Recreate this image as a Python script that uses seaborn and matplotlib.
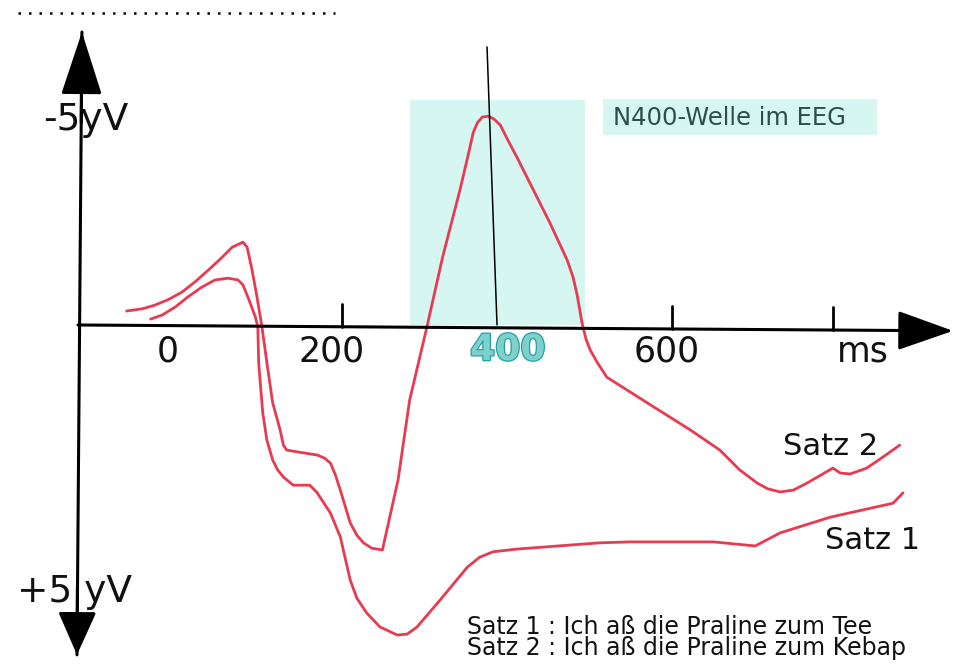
import numpy as np
import pandas as pd
import matplotlib
matplotlib.use("Agg")
import matplotlib.pyplot as plt
import matplotlib.patheffects as pe
import seaborn as sns

# ---------------- data (time in ms, potential in µV; negative plotted upward) ----------------
satz2_ms = [-61, -42, -27, -11, 6, 22, 38, 55, 67, 80, 85, 91, 97, 103, 109, 116, 125, 129, 133,
            146, 170, 179, 186, 192, 198, 210, 218, 226, 236, 249,
            268, 282, 303, 322, 343, 353, 359, 364, 370, 377, 384, 392, 401, 412, 432, 452, 473,
            480, 485, 491, 496, 501, 509, 521, 570, 622, 658, 682, 703, 716, 731, 747, 764,
            795, 804, 816, 836, 856, 876]
satz2_uv = [-0.31, -0.36, -0.44, -0.56, -0.73, -0.96, -1.22, -1.51, -1.73, -1.84, -1.73, -1.22, -0.62, 0.04, 0.84, 1.73, 2.33, 2.67, 2.78,
            2.82, 2.89, 2.96, 3.07, 3.33, 3.67, 4.40, 4.67, 4.84, 4.96, 5.00,
            3.44, 1.67, 0.04, -1.51, -3.0, -3.78, -4.27, -4.49, -4.62, -4.64, -4.58, -4.44, -4.11, -3.73, -3.0, -2.27, -1.44,
            -1.07, -0.67, -0.04, 0.33, 0.56, 0.82, 1.16, 1.73, 2.33, 2.78, 3.22, 3.51, 3.64, 3.71, 3.67, 3.51,
            3.18, 3.29, 3.31, 3.18, 2.93, 2.67]

satz1_ms = [-32, -18, -2, 13, 30, 46, 62, 74, 80, 86, 95, 98, 99, 104, 109, 116, 122, 129, 141,
            161, 170, 186, 198, 210, 218, 230, 246, 267, 279, 291, 319, 352, 367, 383, 412,
            513, 549, 650, 701, 731, 792, 868, 880]
satz1_uv = [-0.13, -0.22, -0.40, -0.62, -0.84, -1.0, -1.04, -1.0, -0.89, -0.62, -0.18, 0.04, 0.84, 1.96, 2.56, 3.0, 3.22, 3.38, 3.56,
            3.56, 3.73, 4.18, 4.71, 5.67, 6.07, 6.4, 6.71, 6.89, 6.87, 6.71, 6.11, 5.38, 5.16, 5.04, 4.98,
            4.84, 4.82, 4.82, 4.91, 4.62, 4.27, 3.96, 3.73]

tick_ms = [200, 600, 795]
tick_labels = ["0", "200", "400", "600", "ms"]
tick_label_ms = [-11, 187, 401, 594, 831]
n400_window = [282.4, 494.5]
n400_top = -5.0
peak_line_ms = [375.8, 387.9]
peak_line_uv = [-6.18, 0.0]
series_names = ["Satz 1", "Satz 2"]
sentences = ["Satz 1 : Ich aß die Praline zum Tee", "Satz 2 : Ich aß die Praline zum Kebap"]

# ---------------- figure ----------------
sns.set_theme(style="white")
plt.rcParams["font.family"] = ["DejaVu Sans"]
fig = plt.figure(figsize=(9.71, 6.66), dpi=100)
ax = fig.add_axes([0, 0, 1, 1])
ax.set_xlim(-214.5, 962.4)
ax.set_ylim(7.578, -7.222)
ax.axis("off")

RED = "#e63b51"
INK = "#111111"

# N400 shaded window
ax.fill_between(n400_window, n400_top, 0, color="#d5f6f1", lw=0, zorder=0)

# curves
df = pd.concat([
    pd.DataFrame({"ms": satz1_ms, "uv": satz1_uv, "satz": series_names[0]}),
    pd.DataFrame({"ms": satz2_ms, "uv": satz2_uv, "satz": series_names[1]}),
])
sns.lineplot(data=df, x="ms", y="uv", hue="satz", palette=[RED, RED], sort=False,
             estimator=None, lw=2.0, legend=False, ax=ax, zorder=3,
             solid_joinstyle="round", solid_capstyle="round")

# vertical axis with arrow heads
ax.plot([-121.2, -115.2], [7.33, -6.51], color="black", lw=2.2, zorder=4)
ax.annotate("", xy=(-115.2, -6.51), xytext=(-116.0, -4.5),
            arrowprops=dict(arrowstyle="-|>,head_length=2.0,head_width=0.65",
                            lw=2.2, color="black", shrinkA=0, shrinkB=0, mutation_scale=20),
            zorder=4)
ax.annotate("", xy=(-121.2, 7.33), xytext=(-120.6, 5.8),
            arrowprops=dict(arrowstyle="-|>,head_length=1.35,head_width=0.6",
                            lw=2.2, color="black", shrinkA=0, shrinkB=0, mutation_scale=20),
            zorder=4)
# horizontal axis
ax.annotate("", xy=(940.6, 0.13), xytext=(-120, 0.0),
            arrowprops=dict(arrowstyle="-|>,head_length=1.75,head_width=0.62",
                            lw=2.2, color="black", shrinkA=0, shrinkB=0, mutation_scale=20),
            zorder=4)
for t in tick_ms:
    yb = 0.13 * (t + 120) / 1060.6
    ax.plot([t, t], [yb, yb - 0.51], color="black", lw=2.0, zorder=4)

# N400 peak line
ax.plot(peak_line_ms, peak_line_uv, color="black", lw=1.1, zorder=4)

# dotted line at top
ax.plot([-192.7, 191.5], [-6.93, -6.93], color="black", lw=1.8, linestyle=(0, (1, 3.2)))

# tick labels
for lab, xm in zip(tick_labels, tick_label_ms):
    if lab == "400":
        ax.text(xm, 0.78, lab, ha="center", va="baseline", fontsize=26, fontweight="bold",
                color="#7fd0cc", zorder=5,
                path_effects=[pe.withStroke(linewidth=1.8, foreground="#23a0a0")])
    else:
        ax.text(xm, 0.82, lab, ha="center", va="baseline", fontsize=25, color=INK, zorder=5)

# y labels
ax.text(-162.4, -4.33, "-5yV", ha="left", va="baseline", fontsize=27, color=INK)
ax.text(-193.9, 6.16, "+5 yV", ha="left", va="baseline", fontsize=27, color=INK)

# series labels
ax.text(734.5, 2.89, series_names[1], ha="left", va="baseline", fontsize=22, color=INK)
ax.text(785.5, 4.98, series_names[0], ha="left", va="baseline", fontsize=22, color=INK)

# N400 label box
ax.fill_between([516.4, 848.5], -5.02, -4.22, color="#d5f6f1", lw=0, zorder=1)
ax.text(528.5, -4.44, "N400-Welle im EEG", ha="left", va="baseline", fontsize=17.5,
        color="#2f4d4d", zorder=5)

# sentences (one two-line text block)
ax.text(351.5, 7.33, "\n".join(sentences), ha="left", va="baseline", fontsize=17,
        color=INK, linespacing=0.83)

fig.savefig("out.png", dpi=100, facecolor="white")
